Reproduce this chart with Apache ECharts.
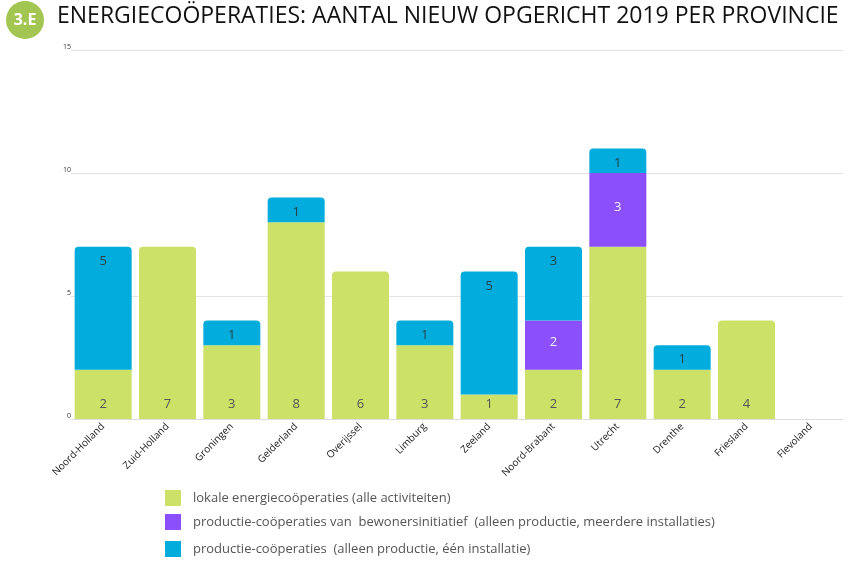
<!DOCTYPE html>
<html>
<head>
<meta charset="utf-8">
<style>
html, body { margin: 0; padding: 0; background: #fff; }
#chart-panel { position: absolute; left: 0; top: 0; width: 850px; height: 561px; }
</style>
<script src="https://cdn.jsdelivr.net/npm/echarts@6/dist/echarts.min.js"></script>
</head>
<body>
<div id="chart-panel"></div>
<script type="text/javascript">
// provincies en aantallen per type cooperatie
var provincies = ['Noord-Holland', 'Zuid-Holland', 'Groningen', 'Gelderland', 'Overijssel', 'Limburg',
                  'Zeeland', 'Noord-Brabant', 'Utrecht', 'Drenthe', 'Friesland', 'Flevoland'];
var lokaal    = [2, 7, 3, 8, 6, 3, 1, 2, 7, 2, 4, 0];
var bewoners  = [0, 0, 0, 0, 0, 0, 0, 2, 3, 0, 0, 0];
var productie = [5, 0, 1, 1, 0, 1, 5, 3, 1, 1, 0, 0];
var legendNames = [
    'lokale energiecoöperaties (alle activiteiten)',
    'productie-coöperaties van  bewonersinitiatief  (alleen productie, meerdere installaties)',
    'productie-coöperaties  (alleen productie, één installatie)'
];
var kleuren = ['#cbe167', '#8c4ffc', '#02acdc'];
var labelKleuren = ['#555', '#f2f2f2', '#2b3f4a'];

var reeksen = [lokaal, bewoners, productie];

// bovenste segment per kolom krijgt ronde hoeken
function maakData(idx) {
    return reeksen[idx].map(function (v, i) {
        var top = -1;
        for (var k = 0; k < reeksen.length; k++) {
            if (reeksen[k][i] > 0) top = k;
        }
        var item = { value: v };
        if (top === idx) {
            item.itemStyle = { borderRadius: [4, 4, 0, 0] };
        }
        return item;
    });
}

var labelPos = ['insideBottom', 'inside', 'insideTop'];
var labelOff = [[0, -3], [0, -3], [0, 3]];

var series = [];
for (var s = 0; s < 3; s++) {
    series.push({
        name: legendNames[s],
        type: 'bar',
        stack: 'totaal',
        barCategoryGap: '11.4%',
        data: maakData(s),
        itemStyle: { color: kleuren[s] },
        label: {
            show: true,
            position: labelPos[s],
            offset: labelOff[s],
            color: labelKleuren[s],
            fontSize: 13,
            fontFamily: 'Open Sans',
            formatter: function (p) { return p.value > 0 ? p.value : ''; }
        }
    });
}

// legenda: drie losse regels onder elkaar
var legendTops = [490, 514, 541];
var legends = legendNames.map(function (n, i) {
    return {
        left: 165, top: legendTops[i],
        padding: 0,
        itemWidth: 16, itemHeight: 16,
        icon: 'rect',
        textStyle: { color: '#555', fontSize: 13, fontFamily: 'Open Sans', padding: [0, 0, 0, 7] },
        data: [n]
    };
});

var myChart = echarts.init(document.getElementById('chart-panel'));
var option = {
    animation: false,
    graphic: [
        {
            type: 'circle',
            shape: { cx: 25, cy: 20, r: 19 },
            style: { fill: '#a2c651' }
        },
        {
            type: 'text',
            x: 25, y: 20,
            style: { text: '3.E', fill: '#fff', font: 'bold 16px "Open Sans"', align: 'center', verticalAlign: 'middle' }
        },
        {
            type: 'text',
            left: 57, top: 5,
            style: {
                text: 'ENERGIECOÖPERATIES: AANTAL NIEUW OPGERICHT 2019 PER PROVINCIE',
                fill: '#111', font: '23px "Open Sans"'
            }
        }
    ],
    legend: legends,
    grid: { left: 71, right: 7, top: 50, bottom: 142 },
    xAxis: {
        type: 'category',
        data: provincies,
        axisLine: { lineStyle: { color: '#ddd' } },
        axisTick: { show: false },
        axisLabel: { rotate: 45, color: '#1a1a1a', fontSize: 10, fontFamily: 'Open Sans', margin: 6, interval: 0 }
    },
    yAxis: {
        type: 'value',
        min: 0, max: 15, interval: 5,
        axisLine: { show: false },
        axisTick: { show: false },
        splitLine: { lineStyle: { color: '#e3e3e3' } },
        axisLabel: { color: '#333', fontSize: 7, fontFamily: 'Open Sans', margin: 0, verticalAlign: 'bottom' }
    },
    series: series
};
myChart.setOption(option);
</script>
</body>
</html>
